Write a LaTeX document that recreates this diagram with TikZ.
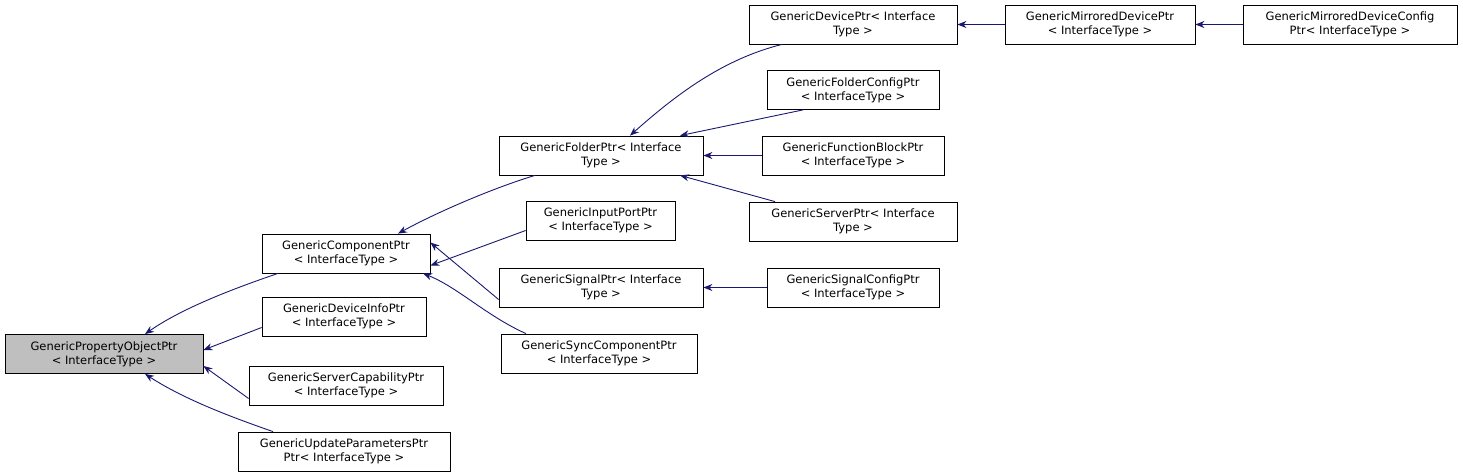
\documentclass[tikz,border=0pt]{standalone}
\usepackage{fontspec}
\setmainfont{DejaVu Sans}
\usetikzlibrary{arrows.meta}
\begin{document}
\begin{tikzpicture}[x=1pt,y=-1pt,
  box/.style={draw=black,line width=0.8pt,fill=white,inner sep=0pt,minimum height=39pt,align=center,font=\fontsize{11.5}{14}\selectfont},
  e/.style={draw=navy,line width=0.9pt,{Stealth[length=9pt,width=7pt]}-}]
\definecolor{navy}{HTML}{191970}
\useasboundingbox (0,0) rectangle (1463,476);
\node[box,fill={rgb,255:red,191;green,191;blue,191},minimum width=198pt] (po) at (104,354) {GenericPropertyObjectPtr\\< InterfaceType >};
\node[box,minimum width=168pt] (comp) at (346,253.5) {GenericComponentPtr\\< InterfaceType >};
\node[box,minimum width=164pt] (devinfo) at (344,316.5) {GenericDeviceInfoPtr\\< InterfaceType >};
\node[box,minimum width=194pt] (servcap) at (346,385.5) {GenericServerCapabilityPtr\\< InterfaceType >};
\node[box,minimum width=212pt] (upd) at (344,451.5) {GenericUpdateParametersPtr\\Ptr< InterfaceType >};
\node[box,minimum width=204pt] (folder) at (601,155.5) {GenericFolderPtr< Interface\\Type >};
\node[box,minimum width=149pt] (input) at (600.5,220.5) {GenericInputPortPtr\\< InterfaceType >};
\node[box,minimum width=204pt] (signal) at (601,287.5) {GenericSignalPtr< Interface\\Type >};
\node[box,minimum width=196pt] (sync) at (599,353.5) {GenericSyncComponentPtr\\< InterfaceType >};
\node[box,minimum width=208pt] (device) at (853,24.5) {GenericDevicePtr< Interface\\Type >};
\node[box,minimum width=172pt] (fconf) at (853,90) {GenericFolderConfigPtr\\< InterfaceType >};
\node[box,minimum width=182pt] (fblock) at (853,155.5) {GenericFunctionBlockPtr\\< InterfaceType >};
\node[box,minimum width=208pt] (server) at (853,221.5) {GenericServerPtr< Interface\\Type >};
\node[box,minimum width=172pt] (sconf) at (853,287.5) {GenericSignalConfigPtr\\< InterfaceType >};
\node[box,minimum width=190pt] (mirr) at (1100,24.5) {GenericMirroredDevicePtr\\< InterfaceType >};
\node[box,minimum width=214pt] (mconf) at (1350,24.5) {GenericMirroredDeviceConfig\\Ptr< InterfaceType >};
% edges
\draw[e] ([xshift=41pt]po.north) .. controls +(40,-28) and +(-35,12) .. ([xshift=-68pt]comp.south);
\draw[e] ([yshift=4pt]po.east) -- ([yshift=-11pt]devinfo.west);
\draw[e] ([yshift=-12pt]po.east) -- ([yshift=-13pt]servcap.west);
\draw[e] ([xshift=41pt]po.south) .. controls +(40,26) and +(-40,-14) .. ([xshift=-71pt]upd.north);
\draw[e] ([xshift=52pt]comp.north) .. controls +(40,-22) and +(-40,12) .. ([xshift=-66pt]folder.south);
\draw[e] ([yshift=-12pt]comp.east) -- ([yshift=-10pt]input.west);
\draw[e] ([yshift=11pt]comp.east) -- ([yshift=-12pt]signal.west);
\draw[e] ([xshift=77pt]comp.south) .. controls +(35,14) and +(-40,-18) .. ([xshift=-73pt]sync.north);
\draw[e] ([xshift=29pt]folder.north) .. controls +(45,-40) and +(-60,15) .. ([xshift=-71pt]device.south);
\draw[e] ([xshift=79pt]folder.north) -- ([xshift=-50pt]fconf.south);
\draw[e] (folder.east) -- (fblock.west);
\draw[e] ([xshift=79pt]folder.south) -- ([xshift=-78pt]server.north);
\draw[e] (signal.east) -- (sconf.west);
\draw[e] (device.east) -- (mirr.west);
\draw[e] (mirr.east) -- (mconf.west);
\end{tikzpicture}
\end{document}
